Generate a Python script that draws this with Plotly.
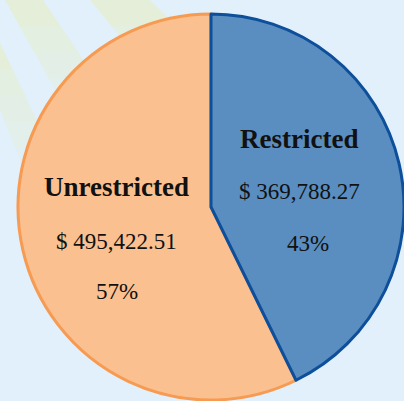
import plotly.graph_objects as go

# ---- data ----
labels = ["Unrestricted", "Restricted"]
values = [495422.51, 369788.27]

# ---- style ----
W, H = 404, 401
fill_colors = ["#FAC090", "#5A8EC0"]
line_colors = ["#F79A52", "#0D4F9A"]
bg = "#E1F0FA"
font_family = "Liberation Serif"

total = sum(values)
pcts = [round(v / total * 100) for v in values]
# start Unrestricted where Restricted ends (Restricted spans clockwise from 12 o'clock)
start_angle = 360 * values[1] / total

fig = go.Figure()
fig.add_trace(go.Pie(
    labels=labels,
    values=values,
    sort=False,
    direction="clockwise",
    rotation=start_angle,
    textinfo="none",
    hoverinfo="label+value+percent",
    marker=dict(colors=fill_colors, line=dict(color=line_colors, width=3)),
    domain=dict(x=[18 / W, 1], y=[0, 388 / H]),
    showlegend=False,
))

# label positions (pixel coords) for each slice: title, value, percent
label_pos = {
    "Unrestricted": [(117, 187), (117, 241), (117, 291)],
    "Restricted": [(299, 139), (299, 192), (308, 243)],
}

annotations = []
for lab, val, pct in zip(labels, values, pcts):
    texts = [f"<b>{lab}</b>", f"$ {val:,.2f}", f"{pct}%"]
    sizes = [27, 23, 23]
    for (px, py), t, s in zip(label_pos[lab], texts, sizes):
        annotations.append(dict(
            x=px / W, y=1 - py / H, xref="paper", yref="paper",
            text=t, showarrow=False, xanchor="center", yanchor="middle",
            font=dict(family=font_family, size=s, color="#111111"),
        ))

# decorative faint background rays (pixel coords)
src = (-172, -317)
rays = [
    [(5, 0), (43, 0)],
    [(90, 0), (150, 0)],
    [(0, 110), (0, 43)],
]


def pt_on_ray(anchor, y):
    ax, ay = anchor
    dx, dy = ax - src[0], ay - src[1]
    return src[0] + dx * (y - src[1]) / dy


shapes = []
alphas = [0.32, 0.26, 0.2, 0.14, 0.08, 0.03]
for a1, a2 in rays:
    y0 = min(a1[1], a2[1])
    seg = 26
    for i, al in enumerate(alphas):
        ya = y0 + i * seg if i > 0 else -5
        yb = y0 + (i + 1) * seg
        pts = [(pt_on_ray(a1, ya), ya), (pt_on_ray(a2, ya), ya),
               (pt_on_ray(a2, yb), yb), (pt_on_ray(a1, yb), yb)]
        path = "M " + " L ".join(f"{x / W:.4f},{1 - y / H:.4f}" for x, y in pts) + " Z"
        shapes.append(dict(type="path", path=path, xref="paper", yref="paper",
                           fillcolor=f"rgba(236,234,150,{al})", line=dict(width=0),
                           layer="below"))

fig.update_layout(
    width=W, height=H,
    margin=dict(l=0, r=0, t=0, b=0),
    paper_bgcolor=bg, plot_bgcolor=bg,
    annotations=annotations,
    shapes=shapes,
    font=dict(family=font_family),
)

fig.write_html("out.html", config={"displayModeBar": False},
               post_script="document.body.style.margin='0';")
